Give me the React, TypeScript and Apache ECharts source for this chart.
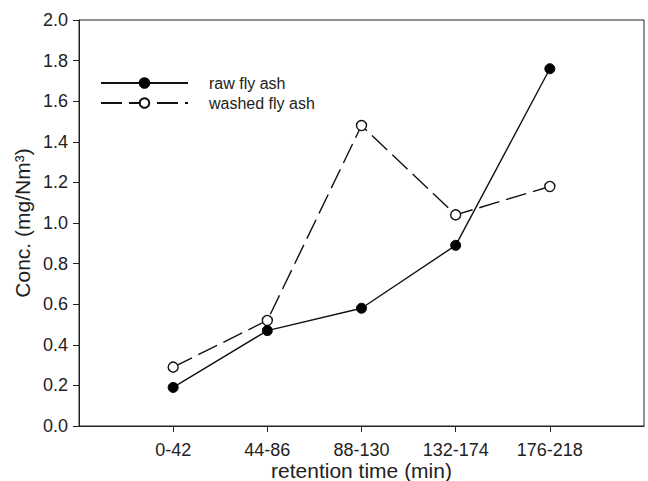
import React, { useEffect, useRef } from "react";
import * as echarts from "echarts";

const categories = ["0-42", "44-86", "88-130", "132-174", "176-218"];
const positions = [1, 2, 3, 4, 5];
const rawFlyAsh = [0.19, 0.47, 0.58, 0.89, 1.76];
const washedFlyAsh = [0.29, 0.52, 1.48, 1.04, 1.18];
const yTicks = [0, 0.2, 0.4, 0.6, 0.8, 1.0, 1.2, 1.4, 1.6, 1.8, 2.0];

const FONT = "Liberation Sans, Arial, sans-serif";

export default function App() {
  const ref = useRef<HTMLDivElement>(null);
  useEffect(() => {
    if (!ref.current) return;
    const chart = echarts.init(ref.current, undefined, { renderer: "svg" });
    chart.setOption({
      animation: false,
      backgroundColor: "#fff",
      textStyle: { fontFamily: FONT },
      grid: {
        left: 79,
        right: 4,
        top: 20,
        bottom: 55,
        containLabel: false,
        outerBoundsMode: "none",
        show: true,
        borderColor: "#222",
        borderWidth: 1,
      },
      legend: {
        orient: "vertical",
        left: 95,
        top: 70,
        itemWidth: 87,
        itemHeight: 12,
        itemGap: 4,
        textStyle: { fontSize: 16, color: "#222", fontFamily: FONT, padding: [0, 0, 0, 16] },
        data: ["raw fly ash", "washed fly ash"],
      },
      xAxis: {
        type: "value",
        min: 0,
        max: 6,
        interval: 1,
        name: "retention time (min)",
        nameLocation: "middle",
        nameGap: 34,
        nameMoveOverlap: false,
        nameTextStyle: { fontSize: 21, color: "#222", fontFamily: FONT },
        axisLine: { show: true, lineStyle: { color: "#222" } },
        axisTick: { show: true, length: 6, inside: false, customValues: positions, lineStyle: { color: "#222" } },
        axisLabel: {
          fontSize: 18,
          color: "#222",
          margin: 15,
          customValues: positions,
          formatter: (v: number) => categories[Math.round(v) - 1] ?? "",
        },
        splitLine: { show: false },
      },
      yAxis: {
        type: "value",
        min: 0,
        max: 2,
        interval: 0.2,
        name: "Conc. (mg/Nm³)",
        nameLocation: "middle",
        nameGap: 46,
        nameMoveOverlap: false,
        nameTextStyle: { fontSize: 21, color: "#222", fontFamily: FONT },
        axisLine: { show: true, lineStyle: { color: "#222" } },
        axisTick: { show: true, length: 6, inside: false, lineStyle: { color: "#222" } },
        axisLabel: {
          fontSize: 18,
          color: "#222",
          margin: 11,
          customValues: yTicks,
          formatter: (v: number) => v.toFixed(1),
        },
        splitLine: { show: false },
      },
      series: [
        {
          name: "raw fly ash",
          type: "line",
          data: positions.map((p, i) => [p, rawFlyAsh[i]]),
          symbol: "circle",
          symbolSize: 10,
          showSymbol: true,
          lineStyle: { color: "#111", width: 1.4, type: "solid" },
          itemStyle: { color: "#000", borderColor: "#000", borderWidth: 1 },
          z: 3,
        },
        {
          name: "washed fly ash",
          type: "line",
          data: positions.map((p, i) => [p, washedFlyAsh[i]]),
          symbol: "circle",
          symbolSize: 10,
          showSymbol: true,
          lineStyle: { color: "#111", width: 1.4, type: [21, 7] },
          itemStyle: { color: "#fff", borderColor: "#111", borderWidth: 1.4 },
          z: 2,
        },
      ],
    });
    return () => chart.dispose();
  }, []);
  return (
    <div
      ref={ref}
      style={{ position: "absolute", left: 0, top: 0, width: 648, height: 481 }}
    />
  );
}
